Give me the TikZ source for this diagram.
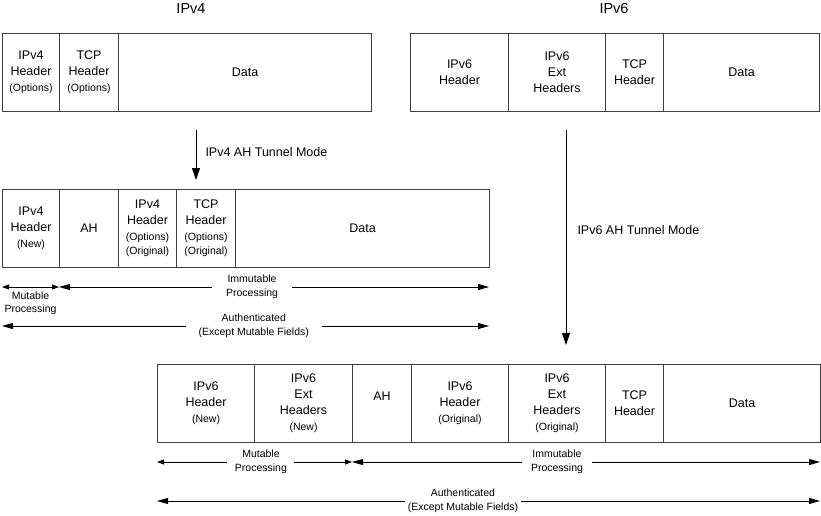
\documentclass[tikz,border=0pt]{standalone}
\usepackage{fontspec}
\setmainfont{Liberation Sans}
\usetikzlibrary{arrows.meta}
\newcommand\subtxt[1]{{\fontsize{10.5}{13}\selectfont #1}}

\begin{document}
\begin{tikzpicture}
		[x=1pt,y=-1pt,
			cellDecorate/.style={draw=black!75,line width=1pt,inner sep=0pt,anchor=north west,
					minimum height=78pt,align=center,font=\fontsize{12.5}{16}\selectfont},
			tunnelDecorate/.style={-{Triangle[length=12pt,width=8pt]},line width=1pt},
			spanDecorate/.style={{Triangle[length=11pt,width=6pt]}-{Triangle[length=11pt,width=6pt]},line width=0.8pt},
			mutDecorate/.style={{Triangle[length=7pt,width=5pt]}-{Triangle[length=7pt,width=5pt]},line width=0.8pt},
			gapDecorate/.style={fill=white,inner ysep=0pt,align=center,font=\fontsize{10.5}{13.5}\selectfont}]
		\useasboundingbox (0,0) rectangle (821,515);
		\node (v4title) at (191,9) {\fontsize{14.5}{17}\selectfont IPv4};
		\node (v6title) at (614,9) {\fontsize{14.5}{17}\selectfont IPv6};
		% packet cells
		\foreach \nodename/\xa/\xb/\y/\txt in {
				v4hdr/2/59/33/{IPv4\\Header\\\subtxt{(Options)}},
				v4tcp/59/118/33/{TCP\\Header\\\subtxt{(Options)}},
				v4data/118/371/33/{Data},
				v6hdr/410/508/33/{IPv6\\Header},
				v6ext/508/605/33/{IPv6\\Ext\\Headers},
				v6tcp/605/663/33/{TCP\\Header},
				v6data/663/819/33/{Data},
				v4new/2/59/189/{IPv4\\Header\\\subtxt{(New)}},
				v4ah/59/118/189/{AH},
				v4orig/118/176/189/{IPv4\\Header\\\subtxt{(Options)}\\[-2pt]\subtxt{(Original)}},
				v4tcporig/176/235/189/{TCP\\Header\\\subtxt{(Options)}\\[-2pt]\subtxt{(Original)}},
				v4dataorig/235/489/189/{Data},
				v6new/157/254/364/{IPv6\\Header\\\subtxt{(New)}},
				v6extnew/254/352/364/{IPv6\\Ext\\Headers\\\subtxt{(New)}},
				v6orig/411/508/364/{IPv6\\Header\\\subtxt{(Original)}},
				v6extorig/508/605/364/{IPv6\\Ext\\Headers\\\subtxt{(Original)}},
				v6tcporig/605/663/364/{TCP\\Header},
				v6dataorig/663/820/364/{Data}}
			{
				\pgfmathsetmacro\w{\xb-\xa}
				\node (\nodename) [cellDecorate,minimum width=\w pt] at (\xa,\y) {\txt};
			}
		\node (v6ah) [cellDecorate,minimum width=59pt,text depth=14pt] at (352,364) {AH};
		% arrow ends
		\foreach \cname/\x/\y in {
				v4from/196/130, v4to/196/180, v6from/566/130, v6to/566/345,
				v4spanA/2/287, v4spanB/59/287, v4spanC/489/287, v4authA/2/326, v4authB/489/326,
				v6spanA/157/462, v6spanB/352/462, v6spanC/820/462, v6authA/157/501, v6authB/820/501}
			\coordinate (\cname) at (\x,\y);
		\draw[tunnelDecorate] (v4from) -- (v4to)
			node (v4mode) [pos=.44,right=9pt,inner sep=0pt,font=\fontsize{12.5}{15}\selectfont] {IPv4 AH Tunnel Mode};
		\draw[tunnelDecorate] (v6from) -- (v6to)
			node (v6mode) [pos=.465,right=11pt,inner sep=0pt,font=\fontsize{12.5}{15}\selectfont] {IPv6 AH Tunnel Mode};
		\draw[mutDecorate] (v4spanA) -- (v4spanB)
			node (v4mut) [midway,below=4pt,inner sep=0pt,align=center,font=\fontsize{10.5}{13.5}\selectfont] {Mutable\\Processing};
		\foreach \startnode/\endnode/\lname/\p/\sep/\txt in {
				v4spanB/v4spanC/v4immut/.449/14/{Immutable\\Processing},
				v4authA/v4authB/v4auth/.517/13/{Authenticated\\\subtxt{(Except Mutable Fields)}},
				v6spanB/v6spanC/v6immut/.438/9.5/{Immutable\\Processing},
				v6authA/v6authB/v6auth/.4615/3/{Authenticated\\\subtxt{(Except Mutable Fields)}}}
			{
				\draw[spanDecorate] (\startnode) -- (\endnode)
					node (\lname) [gapDecorate,pos=\p,inner xsep=\sep pt] {\txt};
			}
		\draw[mutDecorate] (v6spanA) -- (v6spanB)
			node (v6mut) [gapDecorate,pos=.533,inner xsep=7.5pt] {Mutable\\Processing};
	\end{tikzpicture}
\end{document}
